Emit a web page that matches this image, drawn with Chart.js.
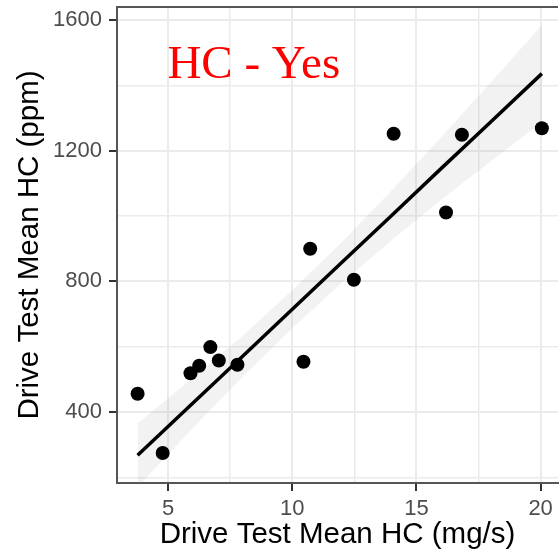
<!DOCTYPE html>
<html>
<head>
<meta charset="utf-8">
<script src="https://cdn.jsdelivr.net/npm/chart.js@4.4.1/dist/chart.umd.min.js"></script>
<style>
  html, body { margin: 0; padding: 0; background: #fff; overflow: hidden; }
  #wrap { width: 559px; height: 558px; overflow: hidden; }
</style>
</head>
<body>
<div id="wrap"><canvas id="c" width="565" height="558"></canvas></div>
<script>
// measured points (x = mg/s, y = ppm)
var driveMgs = [3.77, 4.78, 5.90, 6.25, 6.70, 7.04, 7.79, 10.45, 10.72, 12.48, 14.08, 16.19, 16.83, 20.05];
var drivePpm = [456, 275, 519, 542, 599, 558, 545, 554, 900, 805, 1252, 1011, 1249, 1269];

// fitted line + confidence band
var bandX     = [3.77, 6, 8, 10, 12, 14, 16, 18, 20.05];
var fitY      = [268, 428, 571, 715, 859, 1002, 1146, 1289, 1436];
var bandUpper = [365, 505, 634, 773, 921, 1078, 1242, 1410, 1585];
var bandLower = [171, 351, 508, 657, 797, 926, 1050, 1168, 1288];

var xTicks = [5, 10, 15, 20];
var yTicks = [400, 800, 1200, 1600];
var panelLabel = "HC - Yes";

function pts(xs, ys) {
  return xs.map(function (x, i) { return { x: x, y: ys[i] }; });
}

var isMajorX = function (v) { return xTicks.indexOf(v) >= 0; };
var isMajorY = function (v) { return yTicks.indexOf(v) >= 0; };

var extras = {
  id: 'extras',
  afterDatasetsDraw: function (chart) {
    var ctx = chart.ctx, a = chart.chartArea;
    var sx = chart.scales.x, sy = chart.scales.y;
    ctx.save();
    // top border of the panel
    ctx.strokeStyle = '#555';
    ctx.lineWidth = 2;
    ctx.beginPath();
    ctx.moveTo(a.left - 1, a.top);
    ctx.lineTo(a.right, a.top);
    ctx.stroke();
    // panel label
    ctx.fillStyle = '#ff0000';
    ctx.font = '47px "Liberation Serif"';
    ctx.textAlign = 'center';
    ctx.textBaseline = 'alphabetic';
    ctx.fillText(panelLabel, sx.getPixelForValue(8.45), sy.getPixelForValue(1422));
    ctx.restore();
  }
};

var ctx = document.getElementById('c').getContext('2d');
var myChart = new Chart(ctx, {
  type: 'scatter',
  data: {
    datasets: [{
      type: 'line',
      label: 'fit',
      data: pts(bandX, fitY),
      borderColor: '#000',
      borderWidth: 3.5,
      pointRadius: 0,
      fill: false,
      tension: 0
    }, {
      label: 'HC',
      data: pts(driveMgs, drivePpm),
      backgroundColor: '#000',
      borderColor: '#000',
      pointRadius: 7,
      pointBorderWidth: 0
    }, {
      type: 'line',
      label: 'upper',
      data: pts(bandX, bandUpper),
      borderWidth: 0,
      borderColor: 'rgba(0,0,0,0)',
      backgroundColor: 'rgba(153,153,153,0.13)',
      pointRadius: 0,
      fill: 3,
      tension: 0
    }, {
      type: 'line',
      label: 'lower',
      data: pts(bandX, bandLower),
      borderWidth: 0,
      borderColor: 'rgba(0,0,0,0)',
      pointRadius: 0,
      fill: false,
      tension: 0
    }]
  },
  options: {
    responsive: false,
    animation: false,
    layout: { padding: { top: 6, right: 0, left: 0, bottom: 0 } },
    plugins: {
      legend: { display: false },
      tooltip: { enabled: false }
    },
    scales: {
      x: {
        type: 'linear',
        min: 2.94,
        max: 20.7,
        afterFit: function (s) {
          s.height = 75;
          s.paddingLeft = 0; s.paddingRight = 0;
        },
        border: { display: true, color: '#555', width: 2 },
        grid: {
          color: '#ebebeb',
          lineWidth: function (c) { return isMajorX(c.tick && c.tick.value) ? 2 : 1.5; },
          tickColor: function (c) { return isMajorX(c.tick && c.tick.value) ? '#333' : 'rgba(0,0,0,0)'; },
          tickLength: 8,
          tickWidth: 2
        },
        ticks: {
          stepSize: 2.5,
          includeBounds: false,
          autoSkip: false,
          maxRotation: 0,
          padding: 5,
          color: '#4d4d4d',
          font: { family: '"Liberation Sans", Arial', size: 22 },
          callback: function (v) { return isMajorX(v) ? String(v) : ''; }
        },
        title: {
          display: true,
          text: 'Drive Test Mean HC (mg/s)',
          color: '#000',
          font: { family: '"Liberation Sans", Arial', size: 29.5 },
          padding: { top: 0, bottom: 5 }
        }
      },
      y: {
        type: 'linear',
        min: 183,
        max: 1640,
        afterFit: function (s) {
          s.width = 117;
          s.paddingTop = 0; s.paddingBottom = 0;
        },
        border: { display: true, color: '#555', width: 2 },
        grid: {
          color: '#ebebeb',
          lineWidth: function (c) { return isMajorY(c.tick && c.tick.value) ? 2 : 1.5; },
          tickColor: function (c) { return isMajorY(c.tick && c.tick.value) ? '#333' : 'rgba(0,0,0,0)'; },
          tickLength: 8,
          tickWidth: 2
        },
        ticks: {
          stepSize: 200,
          includeBounds: false,
          autoSkip: false,
          padding: 7,
          color: '#4d4d4d',
          font: { family: '"Liberation Sans", Arial', size: 22 },
          callback: function (v) { return isMajorY(v) ? String(v) : ''; }
        },
        title: {
          display: true,
          text: 'Drive Test Mean HC (ppm)',
          color: '#000',
          font: { family: '"Liberation Sans", Arial', size: 29.5 },
          padding: { top: 12, bottom: 0 }
        }
      }
    }
  },
  plugins: [extras]
});
</script>
</body>
</html>
